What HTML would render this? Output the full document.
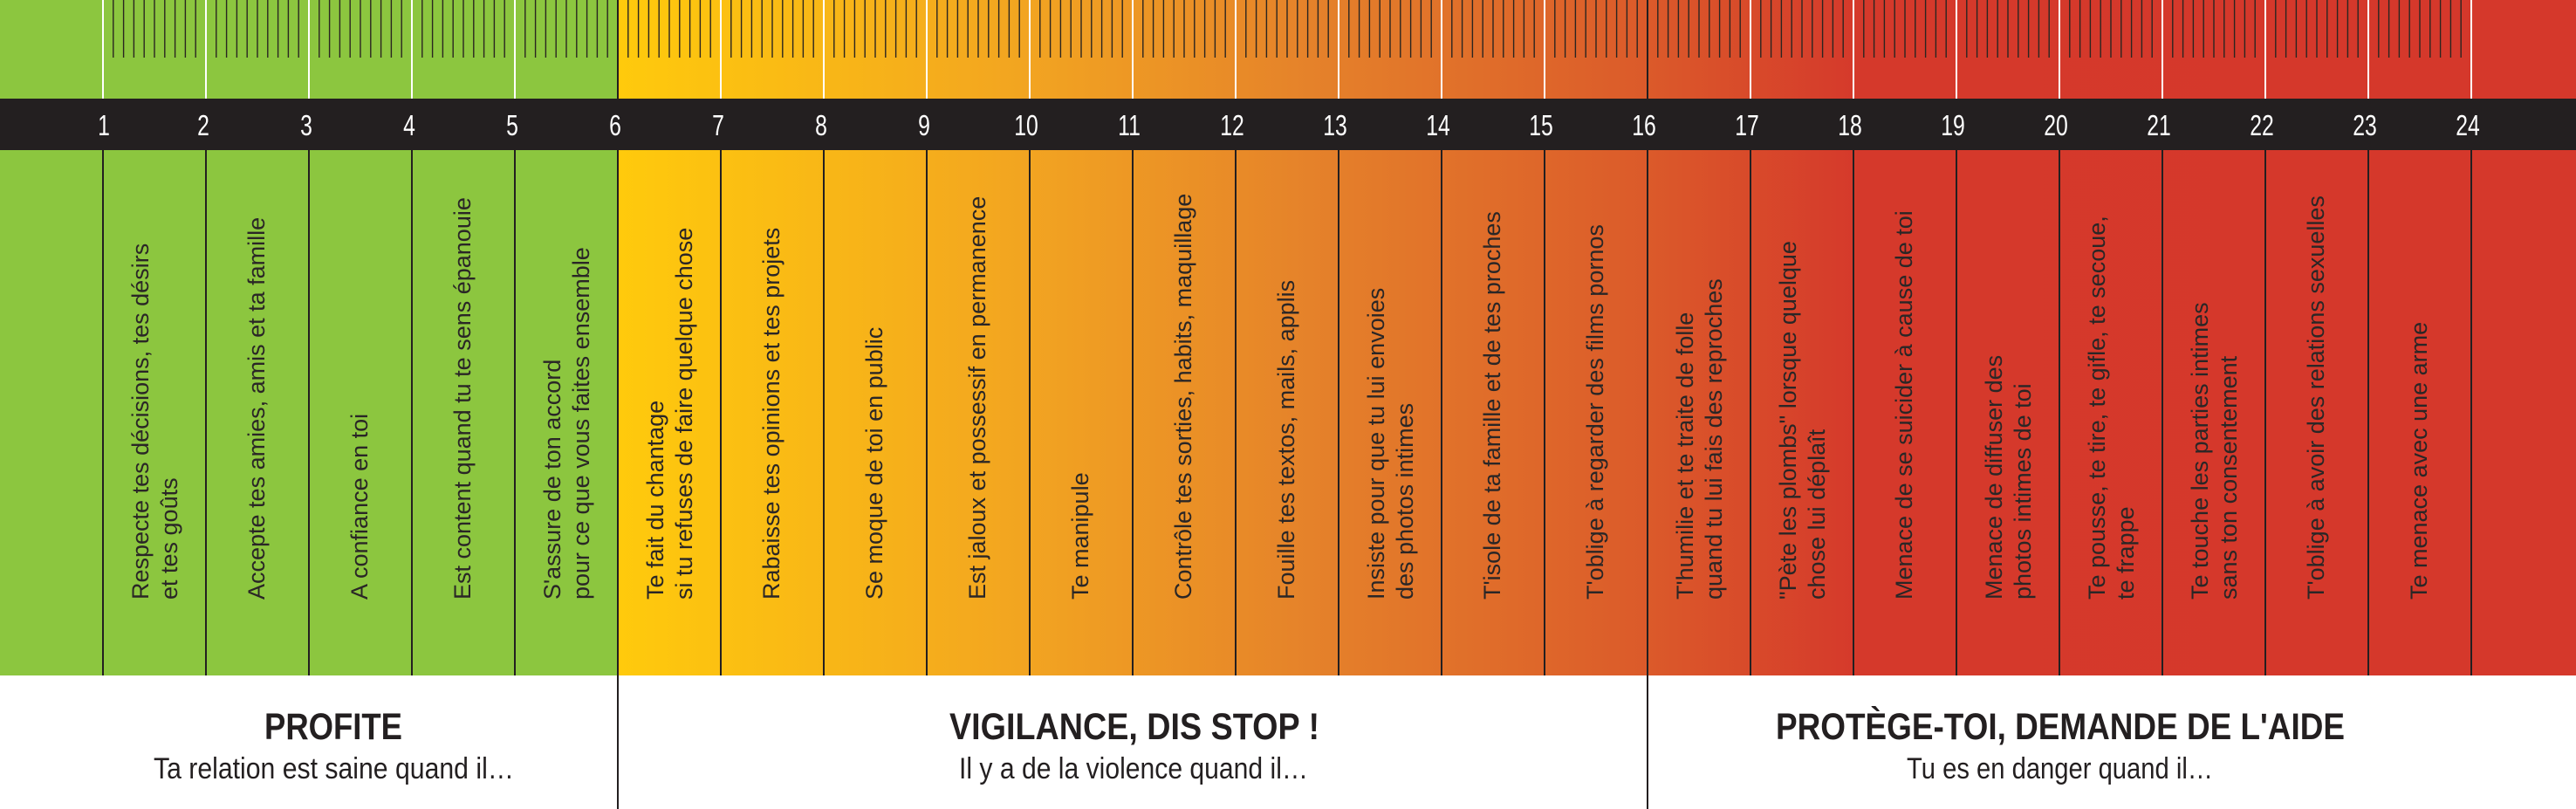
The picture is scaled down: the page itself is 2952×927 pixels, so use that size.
<!DOCTYPE html>
<html><head><meta charset="utf-8"><style>
html,body{margin:0;padding:0;background:#fff;}
svg{display:block;}
</style></head><body>
<svg xmlns="http://www.w3.org/2000/svg" width="2952" height="927" viewBox="0 0 2952 927">
<defs>
<linearGradient id="g" x1="708" y1="0" x2="2952" y2="0" gradientUnits="userSpaceOnUse">
<stop offset="0" stop-color="#ffca0c"/>
<stop offset="0.21" stop-color="#f2a421"/>
<stop offset="0.353" stop-color="#e5822a"/>
<stop offset="0.526" stop-color="#db5a2a"/>
<stop offset="0.634" stop-color="#d5392b"/>
<stop offset="1" stop-color="#d5382b"/>
</linearGradient>
<pattern id="ticks" patternUnits="userSpaceOnUse" x="118" y="0" width="118" height="66">
<path d="M11.8 0V66M23.6 0V66M35.4 0V66M47.2 0V66M59 0V66M70.8 0V66M82.6 0V66M94.4 0V66M106.2 0V66" stroke="#2a2520" stroke-width="1.4"/>
</pattern>
<pattern id="wl" patternUnits="userSpaceOnUse" x="117" y="0" width="118" height="10">
<rect x="0" y="0" width="2" height="10" fill="#ffffff"/>
</pattern>
<pattern id="dl" patternUnits="userSpaceOnUse" x="117" y="0" width="118" height="10">
<rect x="0" y="0" width="2" height="10" fill="#231f20"/>
</pattern>
</defs>
<rect x="0" y="0" width="2952" height="927" fill="#fff"/>
<rect x="0" y="0" width="709" height="774" fill="#8cc63f"/>
<rect x="708" y="0" width="2244" height="774" fill="url(#g)"/>
<rect x="118" y="0" width="2714" height="66" fill="url(#ticks)"/>
<rect x="117" y="0" width="2718" height="113" fill="url(#wl)"/>
<rect x="117" y="172" width="2718" height="602" fill="url(#dl)"/>
<rect x="0" y="113" width="2952" height="59" fill="#231f20"/>
<rect x="707" y="0" width="2" height="927" fill="#231f20"/>
<rect x="1887" y="0" width="2" height="927" fill="#231f20"/>
<g font-family="Liberation Sans, sans-serif" font-size="33" fill="#fff" text-anchor="middle">
<text transform="translate(119,155) scale(0.75,1)">1</text>
<text transform="translate(233,155) scale(0.75,1)">2</text>
<text transform="translate(351,155) scale(0.75,1)">3</text>
<text transform="translate(469,155) scale(0.75,1)">4</text>
<text transform="translate(587,155) scale(0.75,1)">5</text>
<text transform="translate(705,155) scale(0.75,1)">6</text>
<text transform="translate(823,155) scale(0.75,1)">7</text>
<text transform="translate(941,155) scale(0.75,1)">8</text>
<text transform="translate(1059,155) scale(0.75,1)">9</text>
<text transform="translate(1176,155) scale(0.75,1)">10</text>
<text transform="translate(1294,155) scale(0.75,1)">11</text>
<text transform="translate(1412,155) scale(0.75,1)">12</text>
<text transform="translate(1530,155) scale(0.75,1)">13</text>
<text transform="translate(1648,155) scale(0.75,1)">14</text>
<text transform="translate(1766,155) scale(0.75,1)">15</text>
<text transform="translate(1884,155) scale(0.75,1)">16</text>
<text transform="translate(2002,155) scale(0.75,1)">17</text>
<text transform="translate(2120,155) scale(0.75,1)">18</text>
<text transform="translate(2238,155) scale(0.75,1)">19</text>
<text transform="translate(2356,155) scale(0.75,1)">20</text>
<text transform="translate(2474,155) scale(0.75,1)">21</text>
<text transform="translate(2592,155) scale(0.75,1)">22</text>
<text transform="translate(2710,155) scale(0.75,1)">23</text>
<text transform="translate(2828,155) scale(0.75,1)">24</text>
</g>
<g font-family="Liberation Sans, sans-serif" font-size="27" fill="#2a2626">
<text transform="translate(170,687) rotate(-90)">Respecte tes décisions, tes désirs</text>
<text transform="translate(203,687) rotate(-90)">et tes goûts</text>
<text transform="translate(303,687) rotate(-90)">Accepte tes amies, amis et ta famille</text>
<text transform="translate(421,687) rotate(-90)">A confiance en toi</text>
<text transform="translate(539,687) rotate(-90)">Est content quand tu te sens épanouie</text>
<text transform="translate(642,687) rotate(-90)">S'assure de ton accord</text>
<text transform="translate(675,687) rotate(-90)">pour ce que vous faites ensemble</text>
<text transform="translate(760,687) rotate(-90)">Te fait du chantage</text>
<text transform="translate(793,687) rotate(-90)">si tu refuses de faire quelque chose</text>
<text transform="translate(893,687) rotate(-90)">Rabaisse tes opinions et tes projets</text>
<text transform="translate(1011,687) rotate(-90)">Se moque de toi en public</text>
<text transform="translate(1129,687) rotate(-90)">Est jaloux et possessif en permanence</text>
<text transform="translate(1247,687) rotate(-90)">Te manipule</text>
<text transform="translate(1365,687) rotate(-90)">Contrôle tes sorties, habits, maquillage</text>
<text transform="translate(1483,687) rotate(-90)">Fouille tes textos, mails, applis</text>
<text transform="translate(1586,687) rotate(-90)">Insiste pour que tu lui envoies</text>
<text transform="translate(1619,687) rotate(-90)">des photos intimes</text>
<text transform="translate(1719,687) rotate(-90)">T'isole de ta famille et de tes proches</text>
<text transform="translate(1837,687) rotate(-90)">T'oblige à regarder des films pornos</text>
<text transform="translate(1940,687) rotate(-90)">T'humilie et te traite de folle</text>
<text transform="translate(1973,687) rotate(-90)">quand tu lui fais des reproches</text>
<text transform="translate(2058,687) rotate(-90)">"Pète les plombs" lorsque quelque</text>
<text transform="translate(2091,687) rotate(-90)">chose lui déplaît</text>
<text transform="translate(2191,687) rotate(-90)">Menace de se suicider à cause de toi</text>
<text transform="translate(2294,687) rotate(-90)">Menace de diffuser des</text>
<text transform="translate(2327,687) rotate(-90)">photos intimes de toi</text>
<text transform="translate(2412,687) rotate(-90)">Te pousse, te tire, te gifle, te secoue,</text>
<text transform="translate(2445,687) rotate(-90)">te frappe</text>
<text transform="translate(2530,687) rotate(-90)">Te touche les parties intimes</text>
<text transform="translate(2563,687) rotate(-90)">sans ton consentement</text>
<text transform="translate(2663,687) rotate(-90)">T'oblige à avoir des relations sexuelles</text>
<text transform="translate(2781,687) rotate(-90)">Te menace avec une arme</text>
</g>
<g font-family="Liberation Sans, sans-serif" fill="#231f20">
<text x="303" y="847" font-size="43" font-weight="bold" textLength="158" lengthAdjust="spacingAndGlyphs">PROFITE</text>
<text x="1088" y="847" font-size="43" font-weight="bold" textLength="424" lengthAdjust="spacingAndGlyphs">VIGILANCE, DIS STOP !</text>
<text x="2035" y="847" font-size="43" font-weight="bold" textLength="652" lengthAdjust="spacingAndGlyphs">PROTÈGE-TOI, DEMANDE DE L'AIDE</text>
<text x="176" y="892" font-size="34" textLength="413" lengthAdjust="spacingAndGlyphs">Ta relation est saine quand il…</text>
<text x="1099" y="892" font-size="34" textLength="400" lengthAdjust="spacingAndGlyphs">Il y a de la violence quand il…</text>
<text x="2185" y="892" font-size="34" textLength="351" lengthAdjust="spacingAndGlyphs">Tu es en danger quand il…</text>
</g>
</svg>
</body></html>
